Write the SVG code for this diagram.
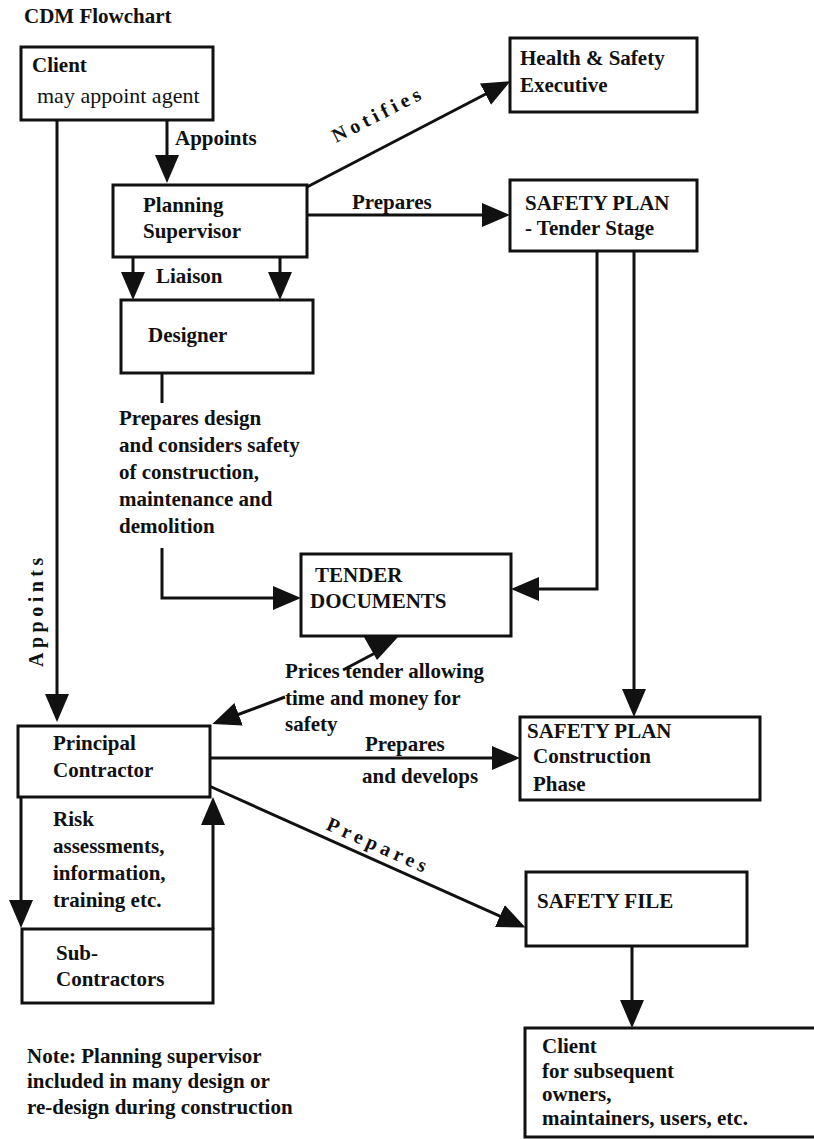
<svg xmlns="http://www.w3.org/2000/svg" width="814" height="1139" viewBox="0 0 814 1139">
  <defs>
    <style>
      text { font-family: "Liberation Serif", "Times New Roman", serif; font-size: 21px; font-weight: bold; fill: #111; }
      .reg { font-weight: normal; font-size: 22px; }
      .slant { font-size: 20px; letter-spacing: 4.5px; }
      .box { fill: #fff; stroke: #111; stroke-width: 3; }
      .wire { fill: none; stroke: #111; stroke-width: 3; }
      .head { fill: #111; stroke: none; }
    </style>
    <marker id="arrow" viewBox="0 0 28 24" refX="22" refY="12" markerWidth="28" markerHeight="24" markerUnits="userSpaceOnUse" orient="auto">
      <path d="M0,0 L28,12 L0,24 Z" fill="#111"/>
    </marker>
  </defs>
  <rect width="814" height="1139" fill="#fff"/>

  <text x="24" y="23">CDM Flowchart</text>

  <!-- connectors -->
  <g id="connectors">
    <path class="wire" d="M167,120 V177" marker-end="url(#arrow)"/>
    <path class="wire" d="M57,120 V716" marker-end="url(#arrow)"/>
    <path class="wire" d="M307,187 L505,84" marker-end="url(#arrow)"/>
    <path class="wire" d="M307,215 H504" marker-end="url(#arrow)"/>
    <path class="wire" d="M133,257 V294" marker-end="url(#arrow)"/>
    <path class="wire" d="M280,257 V294" marker-end="url(#arrow)"/>
    <path class="wire" d="M162,373 V403"/>
    <path class="wire" d="M162,548 V598 H295" marker-end="url(#arrow)"/>
    <path class="wire" d="M597,251 V589 H517" marker-end="url(#arrow)"/>
    <path class="wire" d="M634,251 V711" marker-end="url(#arrow)"/>
    <path class="wire" d="M343,670 L377,652"/>
    <polygon class="head" points="364,637 398,637 377,660"/>
    <path class="wire" d="M285,697 L218,722" marker-end="url(#arrow)"/>
    <path class="wire" d="M210,758 H514" marker-end="url(#arrow)"/>
    <path class="wire" d="M207,785 L520,925" marker-end="url(#arrow)"/>
    <path class="wire" d="M21,797 V922" marker-end="url(#arrow)"/>
    <path class="wire" d="M213,929 V803" marker-end="url(#arrow)"/>
    <path class="wire" d="M632,946 V1022" marker-end="url(#arrow)"/>
  </g>

  <!-- connector labels -->
  <g id="labels">
    <text x="175" y="145">Appoints</text>
    <text class="slant" transform="translate(336,143) rotate(-27)">Notifies</text>
    <text x="352" y="209">Prepares</text>
    <text x="156" y="283">Liaison</text>
    <text x="119" y="425">Prepares design</text>
    <text x="119" y="452">and considers safety</text>
    <text x="119" y="479">of construction,</text>
    <text x="119" y="506">maintenance and</text>
    <text x="119" y="533">demolition</text>
    <text class="slant" transform="translate(43,667) rotate(-90)">Appoints</text>
    <text x="285" y="678">Prices tender allowing</text>
    <text x="285" y="705">time and money for</text>
    <text x="285" y="731">safety</text>
    <text x="365" y="751">Prepares</text>
    <text x="362" y="783">and develops</text>
    <text class="slant" transform="translate(325,829) rotate(24)">Prepares</text>
  </g>

  <g id="client">
    <rect class="box" x="21" y="47" width="192" height="73"/>
    <text x="32" y="72">Client</text>
    <text class="reg" x="37" y="103">may appoint agent</text>
  </g>

  <g id="hse">
    <rect class="box" x="510" y="38" width="187" height="74"/>
    <text x="520" y="65">Health &amp; Safety</text>
    <text x="520" y="92">Executive</text>
  </g>

  <g id="planning-supervisor">
    <rect class="box" x="113" y="185" width="194" height="72"/>
    <text x="143" y="212">Planning</text>
    <text x="143" y="238">Supervisor</text>
  </g>

  <g id="safety-plan-tender">
    <rect class="box" x="510" y="180" width="187" height="71"/>
    <text x="525" y="210">SAFETY PLAN</text>
    <text x="525" y="235">- Tender Stage</text>
  </g>

  <g id="designer">
    <rect class="box" x="121" y="300" width="192" height="73"/>
    <text x="148" y="342">Designer</text>
  </g>

  <g id="tender-documents">
    <rect class="box" x="301" y="554" width="210" height="82"/>
    <text x="315" y="582">TENDER</text>
    <text x="310" y="608">DOCUMENTS</text>
  </g>

  <g id="principal-contractor">
    <rect class="box" x="18" y="726" width="192" height="71"/>
    <text x="53" y="750">Principal</text>
    <text x="53" y="777">Contractor</text>
  </g>

  <g id="risk-assessments">
    <text x="53" y="826">Risk</text>
    <text x="53" y="853">assessments,</text>
    <text x="53" y="880">information,</text>
    <text x="53" y="907">training etc.</text>
  </g>

  <g id="sub-contractors">
    <rect class="box" x="22" y="929" width="191" height="74"/>
    <text x="56" y="960">Sub-</text>
    <text x="56" y="986">Contractors</text>
  </g>

  <g id="safety-plan-construction">
    <rect class="box" x="520" y="717" width="240" height="83"/>
    <text x="527" y="738">SAFETY PLAN</text>
    <text x="533" y="763">Construction</text>
    <text x="533" y="791">Phase</text>
  </g>

  <g id="safety-file">
    <rect class="box" x="526" y="872" width="221" height="74"/>
    <text x="537" y="908">SAFETY FILE</text>
  </g>

  <!-- box runs past the right edge of the sheet -->
  <g id="client-subsequent">
    <path class="wire" d="M830,1028 H525 V1137 H830"/>
    <text x="542" y="1053">Client</text>
    <text x="542" y="1078">for subsequent</text>
    <text x="542" y="1101">owners,</text>
    <text x="542" y="1125">maintainers, users, etc.</text>
  </g>

  <g id="note">
    <text x="27" y="1063">Note: Planning supervisor</text>
    <text x="27" y="1088">included in many design or</text>
    <text x="27" y="1114">re-design during construction</text>
  </g>
</svg>
